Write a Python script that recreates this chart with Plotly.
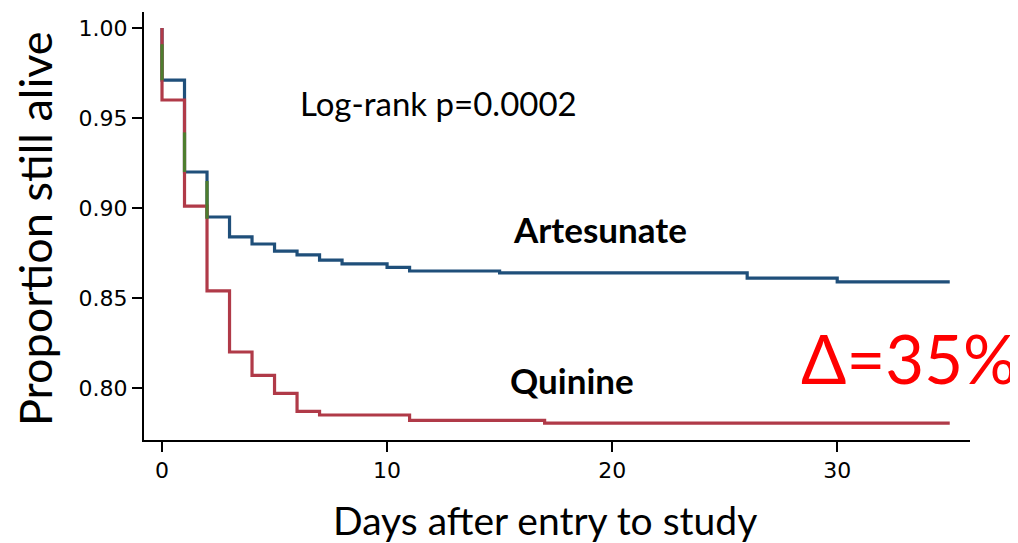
import plotly.graph_objects as go

# Kaplan-Meier steps (day of event, proportion alive after it)
art_days = [0, 0, 1, 2, 3, 4, 5, 6, 7, 8, 10, 11, 15, 26, 30, 35]
art_surv = [1.0, 0.971, 0.920, 0.895, 0.884, 0.880, 0.876, 0.874, 0.871, 0.869, 0.867, 0.865, 0.864, 0.861, 0.859, 0.859]

qui_days = [0, 0, 1, 2, 3, 4, 5, 6, 7, 11, 17, 35]
qui_surv = [1.0, 0.960, 0.901, 0.854, 0.820, 0.807, 0.797, 0.787, 0.785, 0.782, 0.7805, 0.7805]

# stretches where both curves run on top of each other (drawn green)
overlap_days = [0, 0, None, 1, 1, None, 2, 2]
overlap_surv = [0.991, 0.971, None, 0.942, 0.920, None, 0.915, 0.894]

x_ticks = [0, 10, 20, 30]
y_ticks = [0.80, 0.85, 0.90, 0.95, 1.00]

BLUE = '#1f4f7a'
RED = '#b03a48'
GREEN = '#4e7d2e'

fig = go.Figure()
fig.add_trace(go.Scatter(x=art_days, y=art_surv, mode='lines', line_shape='hv',
                         line=dict(color=BLUE, width=3.2), name='Artesunate'))
fig.add_trace(go.Scatter(x=qui_days, y=qui_surv, mode='lines', line_shape='hv',
                         line=dict(color=RED, width=3.2), name='Quinine'))
fig.add_trace(go.Scatter(x=overlap_days, y=overlap_surv, mode='lines',
                         line=dict(color=GREEN, width=3.2), name='overlap'))

txt = dict(family='Lato, Carlito, sans-serif', color='black')
mid = dict(showarrow=False, xanchor='center', yanchor='middle')
fig.add_annotation(x=12.3, y=0.9583, text='Log-rank p=0.0002', font=dict(txt, size=33), **mid)
fig.add_annotation(x=19.45, y=0.8883, text='<b>Artesunate</b>', font=dict(txt, size=35), **mid)
fig.add_annotation(x=18.2, y=0.8044, text='<b>Quinine</b>', font=dict(txt, size=35), **mid)
fig.add_annotation(x=33.2, y=0.8167, text='Δ=35%',
                   font=dict(family='Lato, Carlito, sans-serif', size=67, color='#ff0000'), **mid)

# axis titles placed by hand
fig.add_annotation(xref='paper', yref='paper', x=-0.132, y=0.495, text='Proportion still alive',
                   textangle=-90, font=dict(txt, size=45), **mid)
fig.add_annotation(xref='paper', yref='paper', x=0.4855, y=-0.187, text='Days after entry to study',
                   font=dict(txt, size=39), **mid)

axis = dict(showline=True, linecolor='black', linewidth=2, ticks='outside', ticklen=10,
            tickwidth=2, tickcolor='black', showgrid=False, zeroline=False,
            tickfont=dict(family='DejaVu Sans, Verdana, sans-serif', size=22, color='black'))
# page body adds ~8px offset, so size/margins are trimmed to land the axes where the reference has them
fig.update_layout(
    width=1010, height=535,
    margin=dict(l=136, r=48, t=4, b=103),
    paper_bgcolor='white', plot_bgcolor='white',
    showlegend=False,
    xaxis=dict(axis, range=[-0.8, 35.9], tickvals=x_ticks),
    yaxis=dict(axis, range=[0.7711, 1.0089], tickvals=y_ticks, tickformat='.2f'),
)

fig.write_html('out.html')
